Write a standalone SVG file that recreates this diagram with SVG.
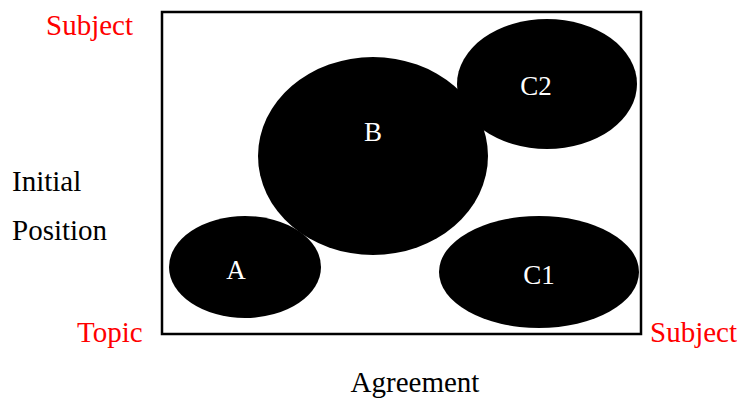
<svg xmlns="http://www.w3.org/2000/svg" width="740" height="399" viewBox="0 0 740 399">
<style>
.t{font-family:'Liberation Serif','DejaVu Serif','Noto Serif',serif;font-size:29px}
.red{fill:#ff0000}
.lbl{fill:#ffffff;text-anchor:middle;font-family:'Liberation Serif','DejaVu Serif','Noto Serif',serif;font-size:27px}
.blob{fill:#000000}
</style>
<rect width="740" height="399" fill="#ffffff"/>
<g id="frame"><rect x="162" y="12" width="479" height="322" fill="none" stroke="#000" stroke-width="2.5"/></g>
<g id="B"><ellipse class="blob" cx="373" cy="156" rx="115" ry="99"/><text class="lbl" x="373" y="141">B</text></g>
<g id="A"><ellipse class="blob" cx="245" cy="267" rx="76" ry="51"/><text class="lbl" x="236" y="279">A</text></g>
<g id="C2"><ellipse class="blob" cx="547" cy="84" rx="90" ry="65"/><text class="lbl" x="536" y="95">C2</text></g>
<g id="C1"><ellipse class="blob" cx="539" cy="272" rx="100" ry="56"/><text class="lbl" x="539" y="284">C1</text></g>
<g id="labels">
<text class="t red" x="46" y="35">Subject</text>
<text class="t" x="12" y="191">Initial</text>
<text class="t" x="12" y="240">Position</text>
<text class="t red" x="77" y="342">Topic</text>
<text class="t red" x="650" y="342">Subject</text>
<text class="t" x="415" y="392" text-anchor="middle">Agreement</text>
</g>
<g id="connectors"/>
</svg>
